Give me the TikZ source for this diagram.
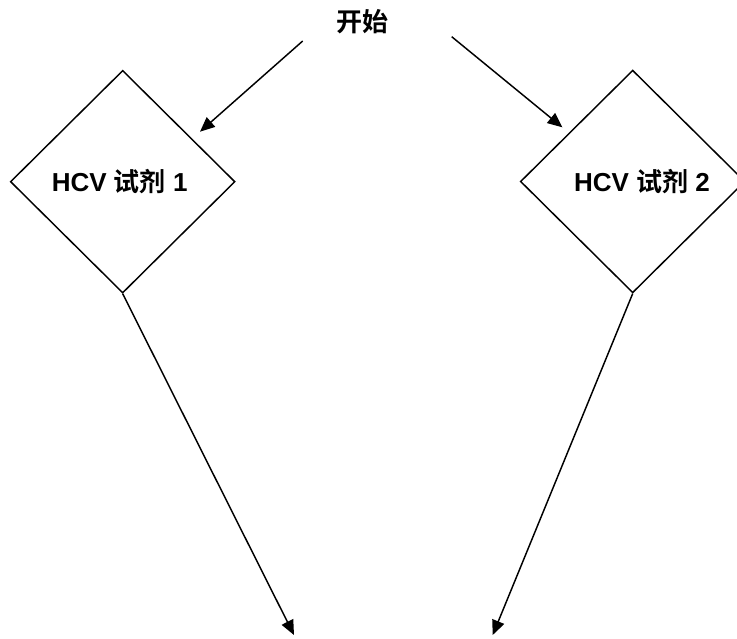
\documentclass[tikz,border=0pt]{standalone}
\usepackage{fontspec}
\setmainfont{Liberation Sans}
\newfontfamily\cjk{Noto Sans CJK SC}[BoldFont={Noto Sans CJK SC Bold}]
\usetikzlibrary{shapes.geometric,arrows.meta}
\begin{document}
\begin{tikzpicture}[x=0.75pt,y=-0.75pt,
  line width=1.1pt,
  choice/.style={draw, shape=diamond, inner sep=0pt, aspect=1,
    minimum width=168.5pt, minimum height=167pt},
  lbl/.style={inner sep=0pt, font=\fontsize{19.5}{23}\selectfont\bfseries},
  flow/.style={-{Triangle[length=11pt,width=9.5pt]}}]
  \useasboundingbox (0,0) rectangle (737,638);
  \clip (0,0) rectangle (737,638);

  % start label
  \node[lbl] (start) at (362,22) {{\cjk 开始}};
  \coordinate (s1) at (302.7,41);
  \coordinate (s2) at (451.7,36.7);

  % the two reagent diamonds
  \node[choice] (d1) at (122.7,181.7) {};
  \node[choice] (d2) at (632.7,181.5) {};
  \node[lbl] (t1) at (119.7,182) {HCV {\cjk 试剂} 1};
  \node[lbl] (t2) at (642,182) {HCV {\cjk 试剂} 2};

  % arrow ends
  \coordinate (a1) at (200,131.7);
  \coordinate (a2) at (562.3,127.3);
  \coordinate (e1) at (294,635);
  \coordinate (e2) at (492.7,635);

  \draw[flow] (s1) -- (a1);
  \draw[flow] (s2) -- (a2);
  \draw[flow] (d1.south) -- (e1);
  \draw[flow] (d2.south) -- (e2);
\end{tikzpicture}
\end{document}
